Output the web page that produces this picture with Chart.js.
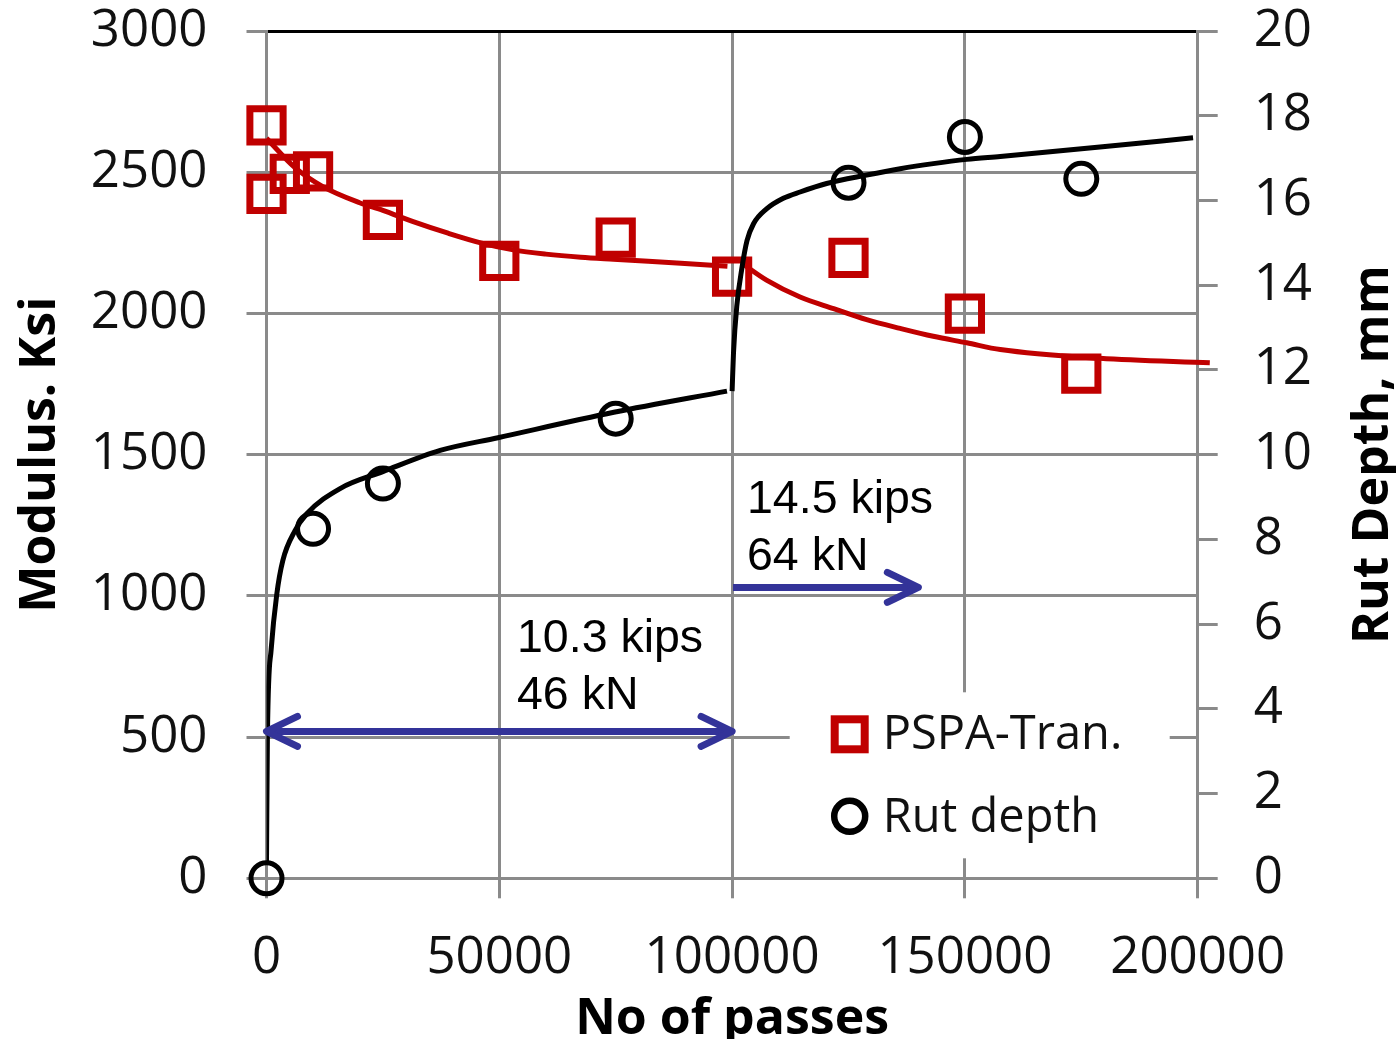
<!DOCTYPE html>
<html>
<head>
<meta charset="utf-8">
<title>Modulus and rut depth vs. number of passes</title>
<script src="https://cdn.jsdelivr.net/npm/chart.js@4.4.1/dist/chart.umd.min.js"></script>
<style>
  html, body { margin: 0; padding: 0; background: #fff; }
  canvas { display: block; }
</style>
</head>
<body>
<canvas id="rutChart" width="1396" height="1039"></canvas>
<script>
// measured points
const pspaPasses  = [0, 0, 5000, 10000, 25000, 50000, 75000, 100000, 125000, 150000, 175000];
const pspaModulus = [2666, 2423, 2494, 2503, 2331, 2186, 2268, 2130, 2197, 1999, 1787];
const rutPasses = [0, 10000, 25000, 75000, 125000, 150000, 175000];
const rutDepth  = [0, 8.25, 9.32, 10.85, 16.42, 17.5, 16.51];

// trend lines, first for the 46 kN stage, then for the 64 kN stage
const modFit1Passes = [0, 6000, 12000, 20000, 25000, 31500, 39000, 46000, 53000, 60000, 67500, 74500, 82000, 89000, 99000];
const modFit1Values = [2620, 2518, 2450, 2392, 2365, 2325, 2284, 2250, 2225, 2210, 2199, 2192, 2185, 2178, 2167];
const modFit2Passes = [102400, 107400, 114600, 121800, 128900, 136100, 143200, 150400, 157600, 179000, 202600];
const modFit2Values = [2174, 2118, 2058, 2017, 1978, 1947, 1919, 1896, 1872, 1841, 1825];

const rutFit1Passes = [0, 200, 1000, 2200, 3500, 6100, 8600, 15800, 25000, 37300, 49700, 74600, 98900];
const rutFit1Values = [0.4, 3.4, 5.4, 6.7, 7.5, 8.2, 8.6, 9.2, 9.6, 10.1, 10.4, 11.0, 11.5];
const rutFit2Passes = [100000, 100300, 101000, 102100, 103200, 104600, 107400, 111000, 114600, 120300, 128900, 136100, 143200, 150400, 157600, 179000, 199000];
const rutFit2Values = [11.5, 12.4, 13.5, 14.4, 15.05, 15.45, 15.8, 16.05, 16.2, 16.4, 16.6, 16.75, 16.87, 16.97, 17.04, 17.26, 17.48];

// axes
const passTicks = [0, 50000, 100000, 150000, 200000];
const modulusMax = 3000, modulusStep = 500;
const depthMax = 20, depthStep = 2;

// load stages (arrows in passes / modulus units)
const loadArrows = [
  { from: 0, to: 100000, at: 520, bothEnds: true },
  { from: 100200, to: 140000, at: 1030, bothEnds: false }
];
const loadNotes = [
  { text: ['10.3 kips', '46 kN'], x: 53800, y: 801 },
  { text: ['14.5 kips', '64 kN'], x: 103200, y: 1294 }
];

const RED = '#c00000';
const GRID = '#8a8a8a';
const NAVY = '#333399';
const TEXT = '#111';

const pairs = (xs, ys) => xs.map((x, i) => ({ x: x, y: ys[i] }));

Chart.defaults.font.family = "'Open Sans', sans-serif";
Chart.defaults.color = TEXT;

const fitLine = (color, width) => ({
  showLine: true,
  pointRadius: 0,
  borderColor: color,
  borderWidth: width,
  cubicInterpolationMode: 'monotone',
  fill: false
});

// keep tick-label overhang from shifting the plot box
const noOverhang = s => {
  s.paddingTop = 0; s.paddingBottom = 0;
  s.paddingLeft = 0; s.paddingRight = 0;
};

// in-plot legend with white backing
const insetLegend = {
  id: 'insetLegend',
  beforeDatasetsDraw(chart) {
    const { ctx, chartArea: a } = chart;
    const right = a.right - 28, bottom = a.bottom - 20;
    const left = right - 380, top = bottom - 166;
    ctx.save();
    ctx.fillStyle = '#fff';
    ctx.fillRect(left, top, right - left, bottom - top);

    const sx = left + 60;
    // square
    ctx.strokeStyle = RED;
    ctx.lineWidth = 8;
    ctx.strokeRect(sx - 15, top + 42 - 15, 30, 30);
    // circle
    ctx.strokeStyle = '#000';
    ctx.lineWidth = 6.5;
    ctx.beginPath();
    ctx.arc(sx, top + 124, 15.5, 0, Math.PI * 2);
    ctx.stroke();

    ctx.fillStyle = TEXT;
    ctx.font = "47px 'Open Sans'";
    ctx.textAlign = 'left';
    ctx.textBaseline = 'alphabetic';
    ctx.fillText(chart.data.datasets[4].label, left + 93, top + 57);
    ctx.fillText(chart.data.datasets[5].label, left + 93, top + 140);
    ctx.restore();
  }
};

// load arrows and their captions
const loadMarks = {
  id: 'loadMarks',
  afterDatasetsDraw(chart) {
    const { ctx } = chart;
    const xs = chart.scales.x, ys = chart.scales.y;
    ctx.save();
    ctx.strokeStyle = NAVY;
    ctx.lineWidth = 7;
    ctx.lineJoin = 'round';
    const head = (tx, ty, dir) => {
      ctx.beginPath();
      ctx.moveTo(tx - dir * 31, ty - 15);
      ctx.lineTo(tx, ty);
      ctx.lineTo(tx - dir * 31, ty + 15);
      ctx.stroke();
    };
    loadArrows.forEach(a => {
      const x0 = xs.getPixelForValue(a.from), x1 = xs.getPixelForValue(a.to);
      const y = ys.getPixelForValue(a.at);
      ctx.lineCap = 'butt';
      ctx.beginPath();
      ctx.moveTo(x0 + (a.bothEnds ? 3 : 0), y);
      ctx.lineTo(x1 - 3, y);
      ctx.stroke();
      ctx.lineCap = 'round';
      head(x1, y, 1);
      if (a.bothEnds) head(x0, y, -1);
    });

    ctx.fillStyle = '#000';
    ctx.font = "46.5px 'Liberation Sans', Arial, sans-serif";
    ctx.textAlign = 'left';
    ctx.textBaseline = 'alphabetic';
    loadNotes.forEach(n => {
      const x = xs.getPixelForValue(n.x), y = ys.getPixelForValue(n.y);
      n.text.forEach((t, i) => ctx.fillText(t, x, y + i * 57));
    });
    ctx.restore();
  }
};

// axis titles (right one reads bottom-to-top like the left)
const axisTitles = {
  id: 'axisTitles',
  afterDraw(chart) {
    const { ctx, chartArea: a } = chart;
    const midY = (a.top + a.bottom) / 2;
    ctx.save();
    ctx.fillStyle = '#000';
    ctx.font = "bold 50px 'Open Sans'";
    ctx.textAlign = 'center';
    ctx.textBaseline = 'alphabetic';
    ctx.fillText('No of passes', (a.left + a.right) / 2, chart.height - 5);

    ctx.save();
    ctx.translate(55, midY);
    ctx.rotate(-Math.PI / 2);
    ctx.fillText('Modulus. Ksi', 0, 0);
    ctx.restore();

    ctx.translate(chart.width - 8, midY);
    ctx.rotate(-Math.PI / 2);
    ctx.fillText('Rut Depth, mm', 0, 0);
    ctx.restore();
  }
};

const ctx = document.getElementById('rutChart').getContext('2d');
new Chart(ctx, {
  type: 'line',
  data: {
    datasets: [
      Object.assign({ label: 'Rut fit 46 kN', data: pairs(rutFit1Passes, rutFit1Values), yAxisID: 'yR', order: 0 }, fitLine('#000', 5)),
      Object.assign({ label: 'Rut fit 64 kN', data: pairs(rutFit2Passes, rutFit2Values), yAxisID: 'yR', order: 0 }, fitLine('#000', 5)),
      Object.assign({ label: 'Modulus fit 46 kN', data: pairs(modFit1Passes, modFit1Values), yAxisID: 'y', order: 1 }, fitLine(RED, 5)),
      Object.assign({ label: 'Modulus fit 64 kN', data: pairs(modFit2Passes, modFit2Values), yAxisID: 'y', order: 1, clip: false }, fitLine(RED, 5)),
      {
        label: 'PSPA-Tran.',
        data: pairs(pspaPasses, pspaModulus),
        yAxisID: 'y',
        showLine: false,
        clip: false,
        pointStyle: 'rect',
        pointRadius: 23.5,
        pointBorderWidth: 7,
        pointBorderColor: RED,
        pointBackgroundColor: 'rgba(0,0,0,0)',
        order: 2
      },
      {
        label: 'Rut depth',
        data: pairs(rutPasses, rutDepth),
        yAxisID: 'yR',
        showLine: false,
        clip: false,
        pointStyle: 'circle',
        pointRadius: 15.5,
        pointBorderWidth: 5,
        pointBorderColor: '#000',
        pointBackgroundColor: 'rgba(0,0,0,0)',
        order: 2
      }
    ]
  },
  options: {
    responsive: false,
    animation: false,
    events: [],
    layout: { padding: { top: 31, left: 0, right: 0, bottom: 0 } },
    plugins: {
      legend: { display: false },
      tooltip: { enabled: false }
    },
    scales: {
      x: {
        type: 'linear',
        min: passTicks[0],
        max: passTicks[passTicks.length - 1],
        afterFit: s => { s.height = 160.7; noOverhang(s); },
        afterBuildTicks: s => { s.ticks = passTicks.map(v => ({ value: v })); },
        grid: { color: GRID, lineWidth: 3, tickLength: 20, tickColor: GRID },
        border: { color: GRID, width: 3 },
        ticks: { font: { size: 51 }, padding: 30, maxRotation: 0, callback: v => String(v) }
      },
      y: {
        position: 'left',
        min: 0,
        max: modulusMax,
        afterFit: s => { s.width = 266.5; noOverhang(s); },
        grid: {
          color: c => (c.tick && c.tick.value === modulusMax ? '#000' : GRID),
          lineWidth: 3,
          tickLength: 20,
          tickColor: GRID
        },
        border: { color: GRID, width: 3 },
        ticks: { stepSize: modulusStep, font: { size: 51 }, padding: 39, callback: v => String(v) }
      },
      yR: {
        position: 'right',
        min: 0,
        max: depthMax,
        afterFit: s => { s.width = 198.3; noOverhang(s); },
        grid: { drawOnChartArea: false, color: GRID, lineWidth: 3, tickLength: 20, tickColor: GRID },
        border: { color: GRID, width: 3 },
        ticks: { stepSize: depthStep, font: { size: 51 }, padding: 36, callback: v => String(v) }
      }
    }
  },
  plugins: [insetLegend, loadMarks, axisTitles]
});
</script>
</body>
</html>
